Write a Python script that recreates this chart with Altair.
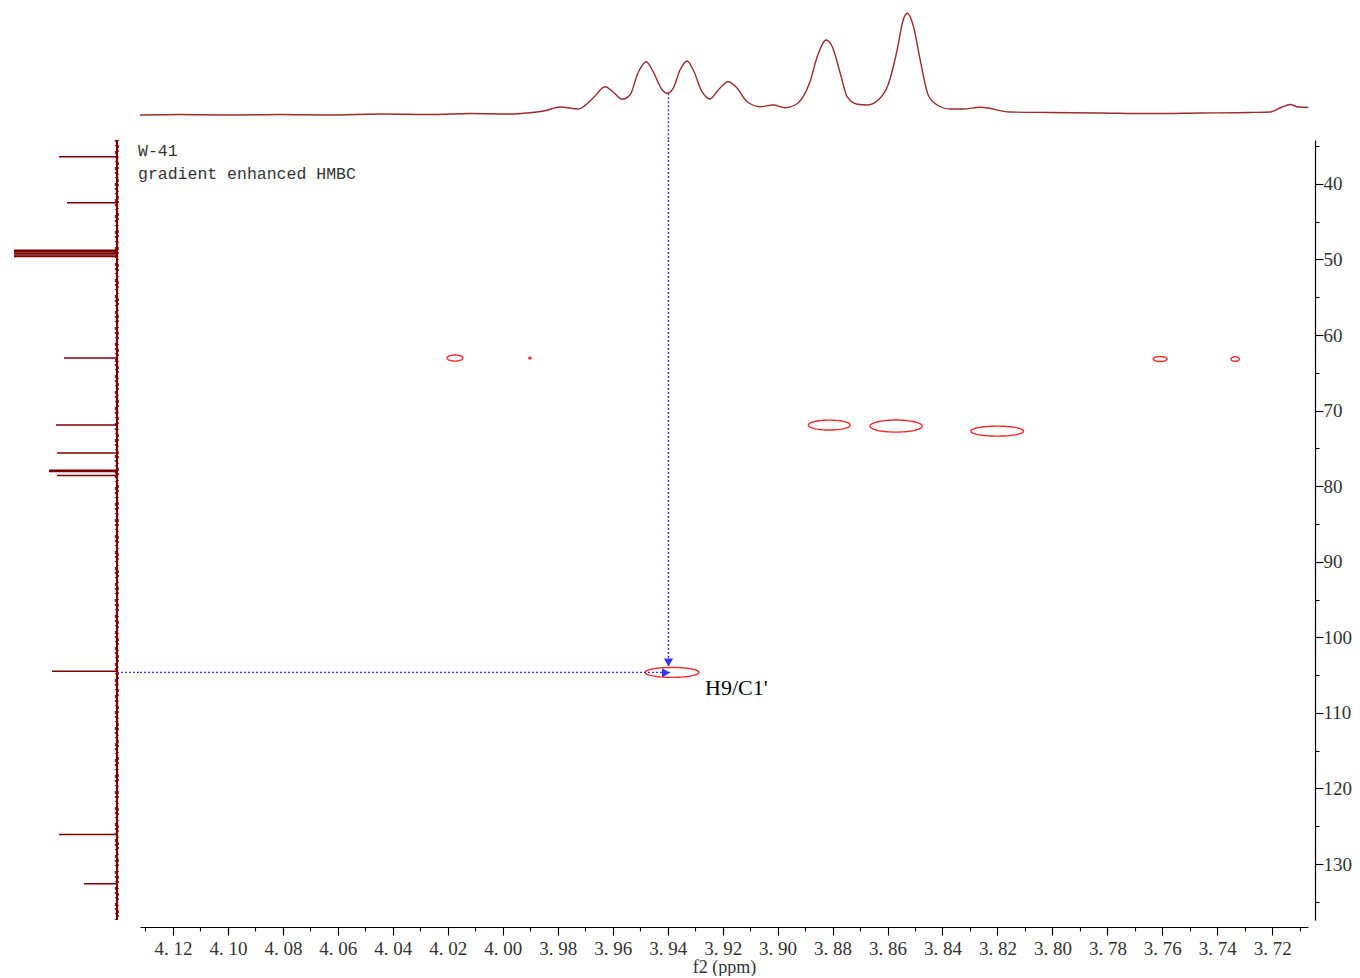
import numpy as np
import pandas as pd
import altair as alt

# ---------------------------------------------------------------- data
F2_DOMAIN = [3.707, 4.132]   # 1H (f2) window, ppm
F1_DOMAIN = [34.2, 137.4]    # 13C (f1) window, ppm

# 1H projection trace (f2 ppm, intensity)
h_ppm = [4.132, 4.1175, 4.0993, 4.081, 4.0629, 4.0447, 4.0265, 4.0119, 3.9973,
         3.9901, 3.9846, 3.9791, 3.9726, 3.9671, 3.9628, 3.9599, 3.9566, 3.9537,
         3.9508, 3.9478, 3.9453, 3.942, 3.9402, 3.938, 3.9355, 3.9329, 3.9307,
         3.9275, 3.9246, 3.9216, 3.918, 3.9147, 3.9111, 3.9063, 3.9016, 3.8972,
         3.8936, 3.8907, 3.8882, 3.8856, 3.8823, 3.8801, 3.8772, 3.8747, 3.871,
         3.8674, 3.8634, 3.8598, 3.8565, 3.8543, 3.8528, 3.8507, 3.8481, 3.8452,
         3.8419, 3.8372, 3.8325, 3.8263, 3.8154, 3.8008, 3.7826, 3.7644, 3.7462,
         3.728, 3.7207, 3.7164, 3.7135, 3.7106, 3.7069]
h_int = [0.0, 0.5, 0.0, 0.5, 0.0, 1.0, 0.5, 1.5, 1.0,
         2.3, 4.3, 8.0, 6.0, 17.0, 28.3, 23.3, 15.7, 20.0,
         42.0, 53.3, 43.3, 25.0, 21.7, 26.7, 45.0, 54.0, 45.0,
         23.3, 16.0, 25.0, 33.3, 26.7, 13.3, 8.3, 10.0, 7.3,
         10.0, 18.3, 33.3, 58.3, 75.0, 68.3, 41.7, 18.3, 10.7,
         10.0, 15.0, 30.0, 65.0, 95.0, 101.7, 90.0, 55.0, 20.0,
         10.0, 6.0, 6.0, 7.7, 3.0, 2.5, 2.0, 1.5, 2.0,
         2.5, 3.0, 8.0, 10.5, 8.0, 7.5]

# 13C projection lines (f1 ppm, intensity)
c_ppm = [36.4, 42.5, 48.8, 49.0, 49.2, 49.4, 49.6, 63.05, 71.9, 75.6,
         77.9, 78.05, 78.6, 104.5, 126.1, 132.6]
c_int = [58, 50, 103, 103, 103, 103, 103, 53, 61, 60,
         68, 68, 60, 65, 58, 33]

# HMBC cross peaks: centre (f2, f1) and half extent of the lowest contour
xp_f2 = [4.0174, 3.9901, 3.7608, 3.7335, 3.8812, 3.8569, 3.8201, 3.9384]
xp_f1 = [63.05, 63.05, 63.18, 63.18, 71.92, 72.05, 72.72, 104.64]
xp_hw = [0.0029, 0.0004, 0.0025, 0.0015, 0.0076, 0.0095, 0.0096, 0.0098]
xp_hh = [0.40, 0.12, 0.33, 0.30, 0.66, 0.80, 0.66, 0.66]

# highlighted correlation H9 / C1'
h9_f2 = 3.9397
h9_dip = 21.7
c1_f1 = 104.64

# ---------------------------------------------------------------- styles
TRACE_TOP = "#9c2b2b"
TRACE_LEFT = "#7d0000"
CONTOUR = "#ff2626"
BLUE = "#3333ff"
LABEL_FONT = "Liberation Serif"

PLOT_W, PLOT_H = 1168, 780
SIDE_W, TOP_H = 140, 140

x_scale = alt.Scale(domain=F2_DOMAIN, reverse=True, nice=False, zero=False)
y_scale = alt.Scale(domain=F1_DOMAIN, reverse=True, nice=False, zero=False)

x_ticks = [round(4.13 - 0.01 * i, 2) for i in range(43)]
y_ticks = list(range(35, 140, 5))

x_axis = alt.Axis(
    orient="bottom", values=x_ticks, offset=7, grid=False,
    labelExpr="round(datum.value*100) % 2 === 0 ? replace(format(datum.value, '.2f'), '.', '. ') : ''",
    tickSize={"condition": {"test": "round(datum.value*100) % 2 === 0", "value": 8}, "value": 4},
    tickColor="#000", domainColor="#000", domainWidth=1.2, tickWidth=1.1,
    labelFont=LABEL_FONT, labelFontSize=19, labelColor="#333", labelPadding=4,
    labelOverlap=False, labelFlush=False,
    title="f2 (ppm)", titleFont=LABEL_FONT, titleFontSize=18, titleFontWeight="normal",
    titleColor="#333", titlePadding=0,
)
y_axis = alt.Axis(
    orient="right", values=y_ticks, offset=7, grid=False,
    labelExpr="datum.value % 10 === 0 ? datum.value : ''",
    tickSize={"condition": {"test": "datum.value % 10 === 0", "value": 8}, "value": 4},
    tickColor="#000", domainColor="#000", domainWidth=1.2, tickWidth=1.1,
    labelFont=LABEL_FONT, labelFontSize=19, labelColor="#333", labelPadding=0,
    labelOverlap=False, labelFlush=False, labelBaseline="middle", title=None,
)


def fx(field):
    return alt.X(field, type="quantitative", scale=x_scale, axis=x_axis)


def fy(field):
    return alt.Y(field, type="quantitative", scale=y_scale, axis=y_axis)


# ---------------------------------------------------------------- main 2D panel
rows = []
t = np.linspace(0, 2 * np.pi, 73)
for i, (cx, cy, a, b) in enumerate(zip(xp_f2, xp_f1, xp_hw, xp_hh)):
    for k, tt in enumerate(t):
        rows.append({"id": i, "k": k, "f2": cx + a * np.cos(tt), "f1": cy + b * np.sin(tt)})
contours = pd.DataFrame(rows)

contour_layer = alt.Chart(contours).mark_line(color=CONTOUR, strokeWidth=1.4).encode(
    x=fx("f2"), y=fy("f1"), detail="id:N", order="k:Q"
)

v_link = pd.DataFrame({"f2": [h9_f2], "f1": [F1_DOMAIN[0]], "f1b": [c1_f1 - 0.7]})
v_rule = alt.Chart(v_link).mark_rule(color=BLUE, strokeDash=[2, 2], strokeWidth=1.4).encode(
    x=fx("f2"), y=fy("f1"), y2="f1b:Q"
)
h_link = pd.DataFrame({"f2": [F2_DOMAIN[1]], "f2b": [3.9385], "f1": [c1_f1]})
h_rule = alt.Chart(h_link).mark_rule(color=BLUE, strokeDash=[2, 2], strokeWidth=1.4).encode(
    x=fx("f2"), x2="f2b:Q", y=fy("f1")
)
arrow_down = alt.Chart(pd.DataFrame({"f2": [h9_f2], "f1": [c1_f1 - 1.3]})).mark_point(
    shape="triangle-down", filled=True, color=BLUE, size=85, opacity=1
).encode(x=fx("f2"), y=fy("f1"))
arrow_right = alt.Chart(pd.DataFrame({"f2": [3.9406], "f1": [c1_f1 + 0.05]})).mark_point(
    shape="triangle-right", filled=True, color=BLUE, size=85, opacity=1
).encode(x=fx("f2"), y=fy("f1"))

header = pd.DataFrame({
    "f2": [F2_DOMAIN[1], F2_DOMAIN[1]],
    "f1": [35.63, 38.68],
    "txt": ["W-41", "gradient enhanced HMBC"],
})
header_layer = alt.Chart(header).mark_text(
    align="left", baseline="middle", dx=-2, font="Liberation Mono", fontSize=16.5, color="#333"
).encode(x=fx("f2"), y=fy("f1"), text="txt:N")

label_layer = alt.Chart(pd.DataFrame({"f2": [3.9264], "f1": [106.75], "txt": ["H9/C1'"]})).mark_text(
    align="left", baseline="middle", font=LABEL_FONT, fontSize=22, color="#000"
).encode(x=fx("f2"), y=fy("f1"), text="txt:N")

main = alt.layer(
    contour_layer, v_rule, h_rule, arrow_down, arrow_right, header_layer, label_layer
).properties(width=PLOT_W, height=PLOT_H)

# ---------------------------------------------------------------- 1H projection (top)
top_x = alt.X("f2:Q", scale=x_scale, axis=None)
top_y_scale = alt.Scale(domain=[-25, 115], nice=False, zero=False)
h_df = pd.DataFrame({"f2": h_ppm, "I": h_int})
top_line = alt.Chart(h_df).mark_line(
    color=TRACE_TOP, strokeWidth=1.4, interpolate="monotone"
).encode(x=top_x, y=alt.Y("I:Q", scale=top_y_scale, axis=None))
top_link = alt.Chart(pd.DataFrame({"f2": [h9_f2], "I": [h9_dip], "I2": [-25]})).mark_rule(
    color=BLUE, strokeDash=[2, 2], strokeWidth=1.4
).encode(x=top_x, y=alt.Y("I:Q", scale=top_y_scale, axis=None), y2="I2:Q")
top = alt.layer(top_link, top_line).properties(width=PLOT_W, height=TOP_H)

# ---------------------------------------------------------------- 13C projection (left)
left_x_scale = alt.Scale(domain=[-23, 117], reverse=True, nice=False, zero=False)
left_x = alt.X("I:Q", scale=left_x_scale, axis=None)
left_y = alt.Y("f1:Q", scale=y_scale, axis=None)
c_df = pd.DataFrame({"f1": c_ppm, "I": c_int, "I0": [0] * len(c_ppm)})
left_peaks = alt.Chart(c_df).mark_rule(color=TRACE_LEFT, strokeWidth=1.5).encode(
    x=left_x, x2="I0:Q", y=left_y
)
left_base = alt.Chart(pd.DataFrame({"I": [0], "f1": [F1_DOMAIN[0]], "f1b": [F1_DOMAIN[1]]})).mark_rule(
    color=TRACE_LEFT, strokeWidth=2.2
).encode(x=left_x, y=left_y, y2="f1b:Q")
# ragged edges of the baseline (noise texture)
fuzz_l = alt.Chart(pd.DataFrame({"I": [1.6], "f1": [F1_DOMAIN[0]], "f1b": [F1_DOMAIN[1]]})).mark_rule(
    color=TRACE_LEFT, strokeWidth=1.2, strokeDash=[2, 3, 1, 5, 3, 2], opacity=0.85
).encode(x=left_x, y=left_y, y2="f1b:Q")
fuzz_r = alt.Chart(pd.DataFrame({"I": [-1.4], "f1": [F1_DOMAIN[0]], "f1b": [F1_DOMAIN[1]]})).mark_rule(
    color=TRACE_LEFT, strokeWidth=1.1, strokeDash=[1, 4, 3, 2, 2, 5], opacity=0.8
).encode(x=left_x, y=left_y, y2="f1b:Q")
left_link = alt.Chart(pd.DataFrame({"I": [0], "I2": [-23], "f1": [c1_f1]})).mark_rule(
    color=BLUE, strokeDash=[2, 2], strokeWidth=1.4
).encode(x=left_x, x2="I2:Q", y=left_y)
left = alt.layer(left_base, fuzz_l, fuzz_r, left_peaks, left_link).properties(
    width=SIDE_W, height=PLOT_H
)

# ---------------------------------------------------------------- corner spacer
corner = alt.Chart(pd.DataFrame({"v": [0.5]})).mark_point(opacity=0, size=1).encode(
    x=alt.X("v:Q", axis=None, scale=alt.Scale(domain=[0, 1])),
    y=alt.Y("v:Q", axis=None, scale=alt.Scale(domain=[0, 1])),
).properties(width=SIDE_W, height=TOP_H)

chart = alt.concat(corner, top, left, main, columns=2, spacing=0, bounds="flush").properties(
    padding={"left": 0, "top": 0, "right": 0, "bottom": 0}, background="white"
).configure_view(stroke=None)

chart.save("out.html", embed_options={"renderer": "svg", "actions": False})
